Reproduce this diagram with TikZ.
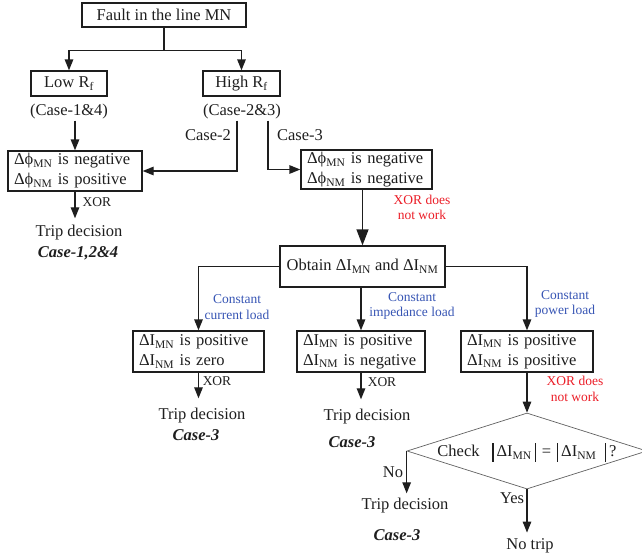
\documentclass[tikz,border=0pt]{standalone}
\usepackage{fontspec}
\setmainfont{Liberation Serif}
\usetikzlibrary{arrows.meta,shapes.geometric,calc}
\definecolor{lblue}{RGB}{55,85,180}
\definecolor{lred}{RGB}{235,30,40}
\definecolor{ink}{RGB}{30,30,30}
\newcommand\sbs[1]{\textsubscript{#1}}
\newcommand\vbar{\rule[-5pt]{1.8pt}{19pt}}
\begin{document}
\begin{tikzpicture}[x=1pt,y=-1pt,
  font=\fontsize{16.5}{20}\selectfont,
  every node/.style={text=ink, inner sep=1pt},
  box/.style={draw=ink, line width=1.3pt, rectangle, inner xsep=6pt, inner ysep=0pt, align=left},
  cbox/.style={draw=ink, line width=1.3pt, rectangle, inner sep=0pt, align=center},
  small/.style={font=\fontsize{13.5}{15.5}\selectfont, align=center},
  bluelbl/.style={small, text=lblue},
  redlbl/.style={small, text=lred},
  bi/.style={font=\fontsize{16.5}{20}\selectfont\bfseries\itshape},
  arr/.style={draw=ink, line width=1.3pt, -{Triangle[length=11pt,width=8.5pt]}},
  arrbig/.style={draw=ink, line width=1.3pt, -{Triangle[length=16pt,width=12pt]}}]
\useasboundingbox (0,0) rectangle (642,557);

% boxes
\node[cbox, minimum width=164pt, minimum height=24pt] (top) at (164,15) {Fault in the line MN};
\node[cbox, minimum width=76pt, minimum height=25pt] (low) at (69,83.5) {Low R\sbs{f}};
\node[cbox, minimum width=77pt, minimum height=25pt] (high) at (241.5,83.5) {High R\sbs{f}};
\node[box, text width=122pt, minimum height=40pt] (lphi) at (75,171) {Δϕ\sbs{MN} is negative\\Δϕ\sbs{NM} is positive};
\node[box, text width=119pt, minimum height=39pt] (rphi) at (366.5,169.5) {Δϕ\sbs{MN} is negative\\Δϕ\sbs{NM} is negative};
\node[cbox, minimum width=165pt, minimum height=41pt] (obt) at (362.5,266.5) {Obtain ΔI\sbs{MN} and ΔI\sbs{NM}};
\node[box, text width=119pt, minimum height=41pt] (b1) at (198.5,351.5) {ΔI\sbs{MN} is positive\\ΔI\sbs{NM} is zero};
\node[box, text width=116pt, minimum height=41pt] (b2) at (361,351.5) {ΔI\sbs{MN} is positive\\ΔI\sbs{NM} is negative};
\node[box, text width=120pt, minimum height=41pt] (b3) at (527,351.5) {ΔI\sbs{MN} is positive\\ΔI\sbs{NM} is positive};
\node[diamond, draw=ink!70, line width=0.7pt, aspect=3.16, minimum width=240pt, minimum height=76pt, inner sep=0pt] (chk) at (527,451) {};
\node (chktxt) at (527,452) {Check\ \ \ \vbar\,ΔI\sbs{MN}\,\vbar\,\,=\,\,\vbar\,ΔI\sbs{NM}\ \ \vbar\,?};

% plain texts
\node (c14) at (69,112) {(Case-1\&4)};
\node (c23) at (242,112) {(Case-2\&3)};
\node (cs2) at (208,135) {Case-2};
\node (cs3) at (300,135) {Case-3};
\node[small] (x1) at (97,202) {XOR};
\node (t1) at (79,233) {Trip decision};
\node[bi] (k1) at (78,253) {Case-1,2\&4};
\node[redlbl] (r1) at (422,207.5) {XOR does\\not work};
\node[bluelbl] (l1) at (237,307) {Constant\\current load};
\node[bluelbl] (l2) at (412,306) {Constant\\impedance load};
\node[bluelbl] (l3) at (565,304) {Constant\\power load};
\node[small] (x2) at (217,381) {XOR};
\node[small] (x3) at (382,382) {XOR};
\node[redlbl] (r2) at (575,389) {XOR does\\not work};
\node (t2) at (202,416) {Trip decision};
\node[bi] (k2) at (196,435) {Case-3};
\node (t3) at (367,417) {Trip decision};
\node[bi] (k3) at (352,442) {Case-3};
\node (no) at (393,472) {No};
\node (t4) at (405,506) {Trip decision};
\node[bi] (k4) at (397,535) {Case-3};
\node (yes) at (512,498) {Yes};
\node (nt) at (530,546) {No trip};

% connectors
\draw[arr] (top.south) -- ++(0,23) -| (low.north);
\draw[arr] (top.south) ++(0,23) -| (high.north);
\draw[arr] (c14.south -| lphi.north) -- (lphi.north);
\draw[arr] ([xshift=-5pt]c23.south) |- (lphi.east);
\draw[arr] ([xshift=26pt]c23.south) |- (rphi.west);
\draw[arr, shorten >=6pt] (lphi.south) -- (lphi.south |- t1.north);
\draw[arrbig] (obt.north |- rphi.south) -- (obt.north);
\draw[arr] (obt.west) -| (b1.north);
\draw[arr] (obt.east) -| (b3.north);
\draw[arr] (b2.north |- obt.south) -- (b2.north);
\draw[arr, shorten >=9pt] (b1.south) -- (b1.south |- t2.north);
\draw[arr, shorten >=9pt] (b2.south) -- (b2.south |- t3.north);
\draw[arr] (b3.south) -- (chk.north);
\draw[arr, shorten >=4pt] (chk.west) -- (chk.west |- t4.north);
\draw[arr, shorten >=5pt] (chk.south) -- (chk.south |- nt.north);
\end{tikzpicture}
\end{document}
